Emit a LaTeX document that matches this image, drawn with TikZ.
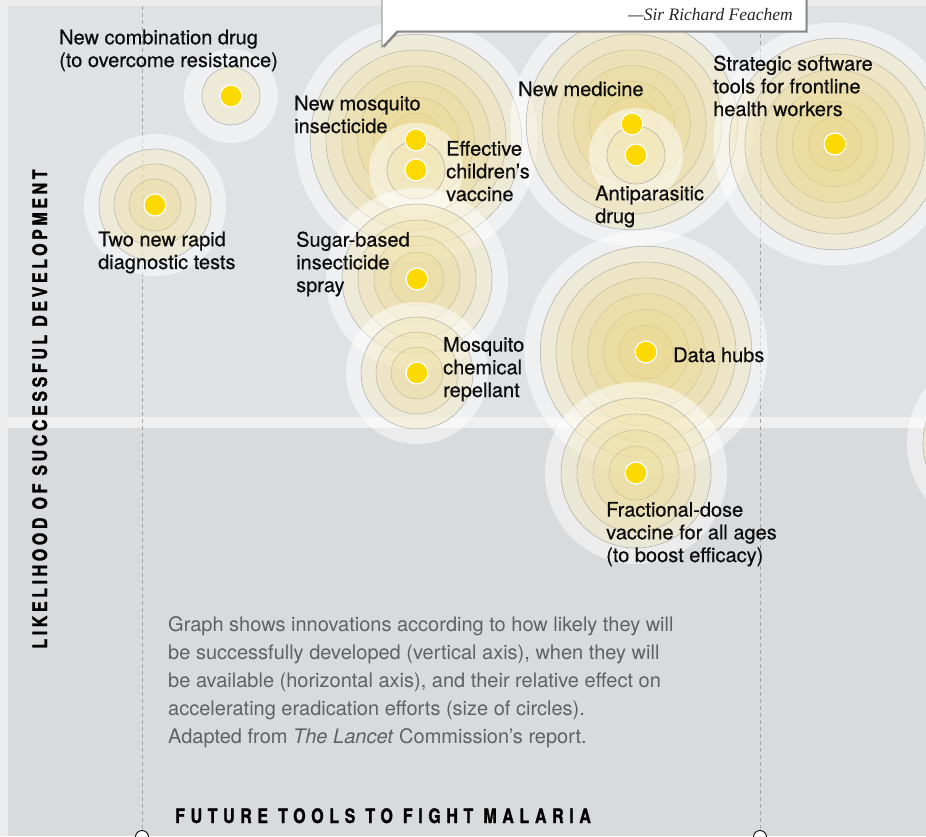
\documentclass[tikz,border=0pt]{standalone}
\usepackage{fontspec}
\setmainfont{TeX Gyre Heros}
\newfontfamily\quotefont{Liberation Serif}
\newfontfamily\toolfont[FakeBold=0.5]{TeX Gyre Heros}
\newfontfamily\axisfont[FakeStretch=0.8,FakeBold=1.2,LetterSpace=28]{TeX Gyre Heros}
\newfontfamily\yaxisfont[FakeStretch=0.8,FakeBold=1.2,LetterSpace=18]{TeX Gyre Heros}
\usepackage{tikz}
\usetikzlibrary{shapes}
\tikzset{>=latex}
\usepackage{xcolor}
\definecolor{outerbg}{RGB}{236,236,236}
\definecolor{panelup}{RGB}{224,225,227}
\definecolor{paneldown}{RGB}{217,218,220}
\definecolor{bandcol}{RGB}{239,239,239}
\definecolor{dotcol}{RGB}{252,217,0}
\definecolor{ringcol}{RGB}{235,215,130}
\definecolor{ringline}{RGB}{150,150,150}
\definecolor{axisgray}{RGB}{165,165,165}
\colorlet{capgray}{black!62}
\tikzstyle{halo}=[fill=white,fill opacity=0.5]
\tikzstyle{ring}=[fill=ringcol,fill opacity=0.22,draw=ringline,draw opacity=0.65,line width=0.6pt]
\tikzstyle{dot}=[circle,fill=dotcol,draw=white,line width=1.2pt,minimum size=22pt,inner sep=0]
% anchor sits on the baseline of the last line
\tikzstyle{toolname}=[font=\toolfont\fontsize{20}{22.7}\selectfont,align=left,anchor=base west,inner sep=0,text=black!95]
\tikzstyle{caption}=[font=\fontsize{20}{28}\selectfont,align=left,anchor=base west,inner sep=0,text=capgray]
\tikzstyle{axistitle}=[font=\axisfont\bfseries\fontsize{20}{24}\selectfont,inner sep=0]
\tikzstyle{yaxistitle}=[font=\yaxisfont\bfseries\fontsize{20}{24}\selectfont,inner sep=0]
\tikzstyle{axisline}=[axisgray,line width=0.8pt,dash pattern=on 4pt off 3pt]
\tikzstyle{axisend}=[circle,draw=black,fill=white,line width=0.9pt,minimum size=13pt,inner sep=0]

\begin{document}
\begin{tikzpicture}[x=1pt,y=-1pt]
  \useasboundingbox (0,0) rectangle (926,836);
  \clip (0,0) rectangle (926,836);

  % PANEL
  \fill[outerbg] (0,0) rectangle (926,836);
  \fill[panelup] (8,6) rectangle (926,417);
  \fill[bandcol] (8,417) rectangle (926,428);
  \fill[paneldown] (8,428) rectangle (926,836);

  % TIME AXIS MARKS
  \coordinate (ltop) at (142,6);
  \coordinate (rtop) at (760,6);
  \node[axisend] (lend) at (142,837) {};
  \node[axisend] (rend) at (760,837) {};
  \draw[axisline] (ltop) -- (lend.north);
  \draw[axisline] (rtop) -- (rend.north);

  % BUBBLES
  \foreach \x/\y/\n/\s in {231/96/1/18, 155/205/3/15, 416/140/6/15.8,
      416/170/1/18, 417/279/4/16, 417/373/3/15, 632/124/6/15.8,
      636/155/1/18, 835/144/6/15.8, 646/352/6/15.8, 636/473/4/16,
      998/443/4/16}{
    \fill[halo] (\x,\y) circle[radius={(11+(\n+1)*\s)*1pt}];
    \foreach \k in {1,...,\n}
      \draw[ring] (\x,\y) circle[radius={(11+\k*\s)*1pt}];
  }

  % DOTS
  \foreach \x/\y/\nm in {231/96/combo, 155/205/rapid, 416/140/insect,
      416/170/vaccine, 417/279/sugar, 417/373/repel, 632/124/medicine,
      636/155/anti, 835/144/software, 646/352/hubs, 636/473/fraction}
    \node[dot] (\nm) at (\x,\y) {};

  % LABELS
  \node[toolname] (combolbl) at (59,67) {New combination drug\\(to overcome resistance)};
  \node[toolname] (rapidlbl) at (98,269) {Two new rapid\\diagnostic tests};
  \node[toolname] (insectlbl) at (294,133) {New mosquito\\insecticide};
  \node[toolname] (vaccinelbl) at (446,201) {Effective\\children’s\\vaccine};
  \node[toolname] (sugarlbl) at (296,292) {Sugar-based\\insecticide\\spray};
  \node[toolname] (repellbl) at (443,397) {Mosquito\\chemical\\repellant};
  \node[toolname] (medlbl) at (518,96) {New medicine};
  \node[toolname] (antilbl) at (595,223) {Antiparasitic\\drug};
  \node[toolname] (softlbl) at (713,116) {Strategic software\\tools for frontline\\health workers};
  \node[toolname] (hubslbl) at (673,362) {Data hubs};
  \node[toolname] (fraclbl) at (606,562) {Fractional-dose\\vaccine for all ages\\(to boost efficacy)};

  % QUOTE BOX
  \fill[black!45] (383.5,-20) -- (383.5,48.5) -- (398.5,32.5) -- (807.5,32.5)
    -- (807.5,-20) -- cycle;
  \draw[fill=white,draw=black!60,line width=0.6pt] (382,-20) -- (382,47)
    -- (397,31) -- (806,31) -- (806,-20) -- cycle;
  \node[font=\quotefont\itshape\fontsize{17.5}{20}\selectfont,anchor=base east,
    inner sep=0,text=black!85] (quote) at (793,20) {—Sir Richard Feachem};

  % NOTE
  \node[caption] (note) at (168,743) {Graph shows innovations according to how likely they will\\
    be successfully developed (vertical axis), when they will\\
    be available (horizontal axis), and their relative effect on\\
    accelerating eradication efforts (size of circles).\\
    Adapted from \textit{The Lancet} Commission’s report.};

  % AXIS TITLES
  \node[axistitle,anchor=base west] (xtitle) at (175,823) {FUTURE TOOLS TO FIGHT MALARIA};
  \node[yaxistitle,rotate=90,anchor=base] (ytitle) at (47,409) {LIKELIHOOD OF SUCCESSFUL DEVELOPMENT};
\end{tikzpicture}
\end{document}
